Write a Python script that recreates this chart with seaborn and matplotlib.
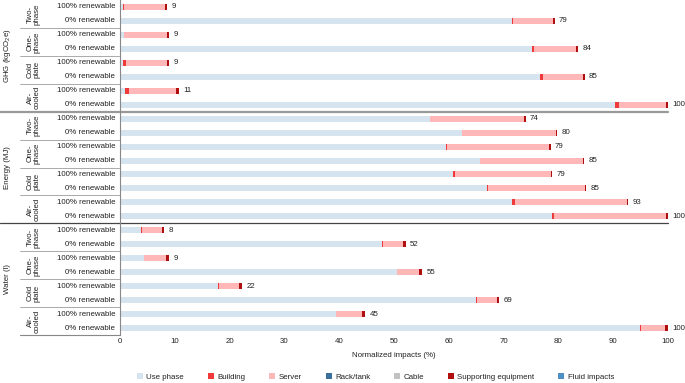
import numpy as np
import pandas as pd
import matplotlib
matplotlib.use("Agg")
import matplotlib.pyplot as plt
import seaborn as sns
from matplotlib.lines import Line2D

sns.set_theme(style="white")
plt.rcParams['font.family'] = ['Liberation Sans', 'DejaVu Sans']
plt.rcParams['mathtext.default'] = 'regular'

metrics = ["GHG (kgCO$_2$e)", "Energy (MJ)", "Water (l)"]
coolings = ["Two-\nphase", "One-\nphase", "Cold\nplate", "Air-\ncooled"]
scenarios = ["100% renewable", "0% renewable"]
components = ["Use phase", "Building", "Server", "Rack/tank", "Cable",
              "Supporting equipment", "Fluid impacts"]
colors = ["#d6e4ef", "#f03a3a", "#ffb7b7", "#3b6f9d", "#c2c2c2", "#b00f0f", "#4f8ec3"]

use_phase = [0.6, 71.5, 0.7, 75.2, 0.6, 76.6, 0.9, 90.3,
             56.6, 62.4, 59.5, 65.7, 60.8, 67.0, 71.5, 78.8,
             3.9, 47.9, 4.3, 50.5, 17.8, 65.0, 39.4, 94.8]
building = [0.1, 0.2, 0.1, 0.3, 0.5, 0.6, 0.7, 0.8,
            0.0, 0.0, 0.1, 0.0, 0.4, 0.2, 0.5, 0.4,
            0.1, 0.1, 0.1, 0.1, 0.2, 0.2, 0.1, 0.3]
server = [7.6, 7.3, 7.8, 7.7, 7.5, 7.3, 8.7, 8.5,
          17.2, 17.2, 18.7, 18.8, 17.4, 17.7, 20.5, 20.5,
          3.7, 3.7, 4.0, 4.0, 3.8, 3.6, 4.7, 4.3]
rack_tank = [0.0] * 24
cable = [0.0] * 24
supporting = [0.3, 0.3, 0.3, 0.4, 0.3, 0.3, 0.4, 0.4,
              0.2, 0.2, 0.3, 0.2, 0.2, 0.2, 0.2, 0.3,
              0.4, 0.4, 0.5, 0.5, 0.5, 0.4, 0.5, 0.6]
fluid = [0.0] * 24
total_labels = [9, 79, 9, 84, 9, 85, 11, 100,
                74, 80, 79, 85, 79, 85, 93, 100,
                8, 52, 9, 55, 22, 69, 45, 100]

series = [use_phase, building, server, rack_tank, cable, supporting, fluid]
n = len(use_phase)
row_ids = [f"r{i}" for i in range(n)]
df = pd.DataFrame({"row": row_ids})
for name, vals in zip(components, series):
    df[name] = vals
cum = df[components].cumsum(axis=1)

W, H = 685, 383
fig = plt.figure(figsize=(W / 100, H / 100), dpi=100)
ax = fig.add_axes([120 / W, 1 - 335 / H, 548 / W, 335 / H])

for i in range(len(components) - 1, -1, -1):
    name = components[i]
    mask = df[name] > 0
    if not mask.any():
        continue
    sub = pd.DataFrame({"row": df.loc[mask, "row"], "cum": cum.loc[mask, name]})
    sns.barplot(data=sub, x="cum", y="row", order=row_ids, orient="h",
                color=colors[i], saturation=1, width=0.43, linewidth=0,
                errorbar=None, ax=ax)

ax.set_xlim(0, 100)
ax.set_ylim(n - 0.5, -0.5)
ax.set_xticks(range(0, 101, 10))
ax.set_xticklabels([str(v) for v in range(0, 101, 10)], fontsize=5.7, color="#222222")
ax.tick_params(axis="x", length=0, pad=2)
ax.set_yticks([])
ax.set_ylabel("")
ax.set_xlabel("Normalized impacts (%)", fontsize=5.7, color="#222222", labelpad=5)
for s in ["top", "right", "bottom"]:
    ax.spines[s].set_visible(False)
ax.spines["left"].set_color("#888888")
ax.spines["left"].set_linewidth(0.8)

totals = cum[components[-1]].values
for i in range(n):
    ax.text(totals[i] + 0.8, i, str(total_labels[i]), va="center", ha="left",
            fontsize=5.7, color="#222222", clip_on=False)
    ax.text(-0.9, i, scenarios[i % 2], va="center", ha="right",
            fontsize=5.7, color="#222222", clip_on=False)

for g in range(12):
    ax.text(-15.7, 2 * g + 0.5, coolings[g % 4], rotation=90, va="center", ha="center",
            fontsize=5.7, color="#222222", linespacing=1.0, clip_on=False)
    yb = 2 * g + 1.5
    if g % 4 != 3:
        ax.plot([-18.2, 0], [yb, yb], color="#aaaaaa", lw=0.7, clip_on=False)
ax.plot([-18.2, 0], [n - 0.5, n - 0.5], color="#888888", lw=0.8, clip_on=False)

for m in range(3):
    ax.text(-20.6, 8 * m + 3.5, metrics[m], rotation=90, va="center", ha="center",
            fontsize=5.7, color="#222222", clip_on=False)
ax.plot([-21.9, 100], [7.5, 7.5], color="#999999", lw=1.6, clip_on=False)
ax.plot([-21.9, 100], [15.5, 15.5], color="#444444", lw=0.9, clip_on=False)

handles = [Line2D([0], [0], marker="s", linestyle="", markersize=5,
                  markerfacecolor=c, markeredgewidth=0) for c in colors]
fig.legend(handles, components, loc="center", bbox_to_anchor=(375 / W, 1 - 377 / H),
           ncol=7, frameon=False, fontsize=5.7, handletextpad=0.3,
           columnspacing=2.9, handlelength=1.0, labelcolor="#222222")

fig.savefig("out.png", dpi=100)
